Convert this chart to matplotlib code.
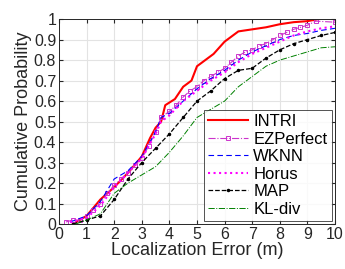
import numpy as np
import matplotlib
matplotlib.use('Agg')
import matplotlib.pyplot as plt

plt.rcParams['font.family'] = ['Liberation Sans', 'DejaVu Sans']

# CDF samples (error in m, cumulative probability)
intri_x = [0.5, 1.0, 1.5, 2.0, 2.5, 3.0, 3.3, 3.5, 3.7, 3.85, 4.2, 4.5, 4.8, 5.0, 5.3, 5.6, 6.0, 6.5, 7.0, 7.5, 8.0, 8.5, 9.0, 9.4]
intri_y = [0.0, 0.04, 0.12, 0.18, 0.25, 0.33, 0.42, 0.47, 0.50, 0.58, 0.61, 0.67, 0.70, 0.77, 0.80, 0.83, 0.89, 0.94, 0.95, 0.96, 0.975, 0.985, 0.99, 1.0]

ez_x = [0.25, 0.5, 0.75, 1.0, 1.25, 1.5, 1.75, 2.0, 2.25, 2.5, 2.75, 3.0, 3.25, 3.5, 3.7, 4.0, 4.25, 4.5, 4.75, 5.0, 5.25, 5.5, 5.75, 6.0, 6.25, 6.5, 6.75, 7.0, 7.25, 7.5, 7.75, 8.0, 8.25, 8.5, 8.75, 9.0, 9.3, 10.0]
ez_y = [0.01, 0.02, 0.02, 0.04, 0.07, 0.10, 0.15, 0.19, 0.22, 0.25, 0.29, 0.32, 0.38, 0.45, 0.52, 0.55, 0.58, 0.62, 0.65, 0.67, 0.70, 0.72, 0.74, 0.76, 0.79, 0.82, 0.84, 0.85, 0.87, 0.88, 0.90, 0.92, 0.935, 0.95, 0.96, 0.97, 0.99, 0.985]

wknn_x = [0.4, 1.0, 1.5, 2.0, 2.5, 3.0, 3.5, 3.7, 4.0, 4.5, 5.0, 5.5, 6.0, 6.5, 7.0, 7.5, 8.0, 8.5, 9.0, 9.5, 10.0]
wknn_y = [0.01, 0.04, 0.11, 0.22, 0.26, 0.33, 0.45, 0.52, 0.54, 0.60, 0.66, 0.71, 0.75, 0.80, 0.84, 0.87, 0.90, 0.92, 0.93, 0.945, 0.955]

horus_x = [0.4, 1.0, 1.5, 2.0, 2.5, 3.0, 3.5, 3.7, 4.0, 4.5, 5.0, 5.5, 6.0, 6.5, 7.0, 7.5, 8.0, 8.5, 9.0, 9.5, 10.0]
horus_y = [0.01, 0.03, 0.09, 0.18, 0.25, 0.32, 0.44, 0.50, 0.53, 0.60, 0.65, 0.70, 0.74, 0.79, 0.83, 0.86, 0.89, 0.92, 0.94, 0.955, 0.965]

map_x = [0.5, 1.0, 1.5, 2.0, 2.5, 3.0, 3.5, 4.0, 4.5, 5.0, 5.5, 6.0, 6.5, 7.0, 7.5, 8.0, 8.5, 9.0, 9.5, 10.0]
map_y = [0.0, 0.02, 0.04, 0.12, 0.22, 0.30, 0.37, 0.44, 0.52, 0.60, 0.65, 0.71, 0.75, 0.76, 0.81, 0.85, 0.88, 0.90, 0.92, 0.935]

kl_x = [0.6, 1.0, 1.5, 2.0, 2.5, 3.0, 3.5, 4.0, 4.5, 5.0, 5.5, 6.0, 6.5, 7.0, 7.5, 8.0, 8.5, 9.0, 9.5, 10.0]
kl_y = [0.0, 0.02, 0.05, 0.15, 0.20, 0.24, 0.28, 0.35, 0.43, 0.52, 0.56, 0.60, 0.67, 0.72, 0.77, 0.80, 0.82, 0.84, 0.86, 0.865]

fig = plt.figure(figsize=(3.45, 2.69), dpi=100)
ax = fig.add_axes([0.171, 0.167, 0.80, 0.762])

ax.plot(intri_x, intri_y, color='red', lw=1.5, label='INTRI')
ax.plot(ez_x, ez_y, color='#cc33cc', lw=0.8, ls='-.', marker='s', ms=2.5,
        mfc='none', mew=0.7, label='EZPerfect')
ax.plot(wknn_x, wknn_y, color='blue', lw=0.8, ls=(0, (5, 3)), label='WKNN')
ax.plot(horus_x, horus_y, color='magenta', lw=1.5, ls=':', label='Horus')
ax.plot(map_x, map_y, color='black', lw=0.9, ls='--', marker='.', ms=3, label='MAP')
ax.plot(kl_x, kl_y, color='green', lw=0.7, ls='-.', label='KL-div')

ax.set_xlim(0, 10)
ax.set_ylim(0, 1)
ax.set_xticks(range(0, 11))
ax.set_yticks(np.arange(0, 1.01, 0.1))
ax.set_yticklabels(['0', '0.1', '0.2', '0.3', '0.4', '0.5', '0.6', '0.7', '0.8', '0.9', '1'])
ax.grid(True, color='#e3e3e3', lw=0.8)
ax.set_axisbelow(True)
ax.tick_params(direction='in', length=3, labelsize=11.5, colors='#262626', top=True, right=True, pad=2)
for s in ax.spines.values():
    s.set_color('#262626')
    s.set_linewidth(0.7)
ax.set_xlabel('Localization Error (m)', fontsize=13, color='#262626', labelpad=0)
ax.set_ylabel('Cumulative Probability', fontsize=13, color='#262626', labelpad=1)

leg = ax.legend(loc='lower right', fontsize=12, frameon=True, fancybox=False,
                edgecolor='#262626', handlelength=2.4, handletextpad=0.3,
                borderpad=0.25, labelspacing=0.15, borderaxespad=0.2)
leg.get_frame().set_linewidth(0.7)

fig.savefig('out.png', dpi=100)
